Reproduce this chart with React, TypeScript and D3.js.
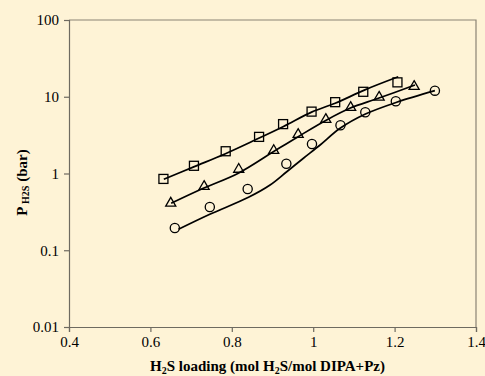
import { useEffect, useRef } from 'react';
import * as d3 from 'd3';

// experimental points (H2S loading, P_H2S in bar)
const squareX = [0.632, 0.707, 0.785, 0.867, 0.926, 0.996, 1.054, 1.123, 1.207];
const squareY = [0.85, 1.26, 1.95, 3.0, 4.4, 6.4, 8.5, 11.6, 15.4];
const triangleX = [0.65, 0.732, 0.817, 0.903, 0.963, 1.031, 1.092, 1.162, 1.248];
const triangleY = [0.417, 0.687, 1.15, 2.02, 3.27, 5.13, 7.35, 10.0, 13.8];
const circleX = [0.66, 0.746, 0.839, 0.934, 0.997, 1.067, 1.128, 1.203, 1.299];
const circleY = [0.195, 0.366, 0.628, 1.34, 2.42, 4.25, 6.27, 8.73, 12.0];

// model curves
const squareFitX = [0.633, 0.708, 0.783, 0.857, 0.927, 0.996, 1.054, 1.127, 1.209];
const squareFitY = [0.84, 1.23, 1.8, 2.73, 4.1, 6.3, 8.22, 12.3, 18.2];
const triangleFitX = [0.651, 0.73, 0.816, 0.902, 0.963, 1.033, 1.09, 1.16, 1.25];
const triangleFitY = [0.409, 0.641, 1.01, 1.92, 3.02, 4.98, 7.07, 9.55, 14.2];
const circleFitX = [0.669, 0.746, 0.841, 0.894, 0.935, 0.976, 1.017, 1.066, 1.127, 1.205, 1.299];
const circleFitY = [0.1875, 0.294, 0.49, 0.708, 1.055, 1.58, 2.35, 3.88, 5.91, 8.47, 12.0];

const xTicks = [0.4, 0.6, 0.8, 1.0, 1.2, 1.4];
const yTicks = [0.01, 0.1, 1, 10, 100];
const yTickLabels = ['0.01', '0.1', '1', '10', '100'];

const W = 485;
const H = 376;

export default function App() {
  const ref = useRef<SVGSVGElement>(null);

  useEffect(() => {
    if (!ref.current) return;
    const svg = d3.select(ref.current);
    svg.selectAll('*').remove();

    const left = 69, right = 476, top = 20, bottom = 327;
    const x = d3.scaleLinear().domain([0.4, 1.4]).range([left, right]);
    const y = d3.scaleLog().domain([0.01, 100]).range([bottom, top]);

    svg.append('rect').attr('width', W).attr('height', H).attr('fill', '#fef3d6');

    // frame (top + right)
    svg.append('path')
      .attr('d', `M${left},${top}H${right}V${bottom}`)
      .attr('fill', 'none')
      .attr('stroke', '#8a8474')
      .attr('stroke-width', 1.2);

    const font = "'Liberation Serif', 'Times New Roman', serif";

    const gx = svg.append('g')
      .attr('transform', `translate(0,${bottom})`)
      .call(d3.axisBottom(x).tickValues(xTicks).tickSize(5).tickPadding(4)
        .tickFormat((d) => d3.format('')(+d)));
    const gy = svg.append('g')
      .attr('transform', `translate(${left},0)`)
      .call(d3.axisLeft(y).tickValues(yTicks).tickSize(5).tickPadding(5)
        .tickFormat((_, i) => yTickLabels[i]));
    [gx, gy].forEach((g) => {
      g.attr('font-family', font).attr('font-size', 15);
      g.select('.domain').attr('stroke', '#6e6a60').attr('stroke-width', 1.2);
      g.selectAll('line').attr('stroke', '#6e6a60').attr('stroke-width', 1.2);
      g.selectAll('text').attr('fill', '#000');
    });

    const line = d3.line<[number, number]>()
      .x((d) => x(d[0]))
      .y((d) => y(d[1]))
      .curve(d3.curveCatmullRom.alpha(0.5));

    const fits: [number[], number[]][] = [
      [squareFitX, squareFitY],
      [triangleFitX, triangleFitY],
      [circleFitX, circleFitY],
    ];
    fits.forEach(([xs, ys]) => {
      svg.append('path')
        .datum(xs.map((v, i) => [v, ys[i]] as [number, number]))
        .attr('fill', 'none')
        .attr('stroke', '#000')
        .attr('stroke-width', 1.7)
        .attr('d', line);
    });

    const marks = svg.append('g')
      .attr('fill', 'none')
      .attr('stroke', '#000')
      .attr('stroke-width', 1.3);

    squareX.forEach((v, i) => {
      marks.append('rect')
        .attr('x', x(v) - 4.5)
        .attr('y', y(squareY[i]) - 4.5)
        .attr('width', 9)
        .attr('height', 9);
    });
    const tri = d3.symbol(d3.symbolTriangle, 44);
    triangleX.forEach((v, i) => {
      marks.append('path')
        .attr('transform', `translate(${x(v)},${y(triangleY[i]) + 0.5})`)
        .attr('d', tri());
    });
    circleX.forEach((v, i) => {
      marks.append('circle')
        .attr('cx', x(v))
        .attr('cy', y(circleY[i]))
        .attr('r', 4.6);
    });

    // x title
    const xt = svg.append('text')
      .attr('x', (left + right) / 2 - 5)
      .attr('y', 371)
      .attr('text-anchor', 'middle')
      .attr('font-family', font)
      .attr('font-size', 15)
      .attr('font-weight', 'bold');
    xt.append('tspan').text('H');
    xt.append('tspan').attr('font-size', 10).attr('dy', 3).text('2');
    xt.append('tspan').attr('dy', -3).text('S loading (mol H');
    xt.append('tspan').attr('font-size', 10).attr('dy', 3).text('2');
    xt.append('tspan').attr('dy', -3).text('S/mol DIPA+Pz)');

    // y title
    const yt = svg.append('text')
      .attr('transform', `translate(27,${(top + bottom) / 2 + 9}) rotate(-90)`)
      .attr('text-anchor', 'middle')
      .attr('font-family', font)
      .attr('font-size', 15)
      .attr('font-weight', 'bold');
    yt.append('tspan').text('P');
    yt.append('tspan').attr('font-size', 10).attr('dy', 2).text(' H2S');
    yt.append('tspan').attr('dy', -2).text(' (bar)');
  }, []);

  return (
    <svg
      ref={ref}
      width={W}
      height={H}
      style={{ position: 'absolute', left: 0, top: 0 }}
    />
  );
}
